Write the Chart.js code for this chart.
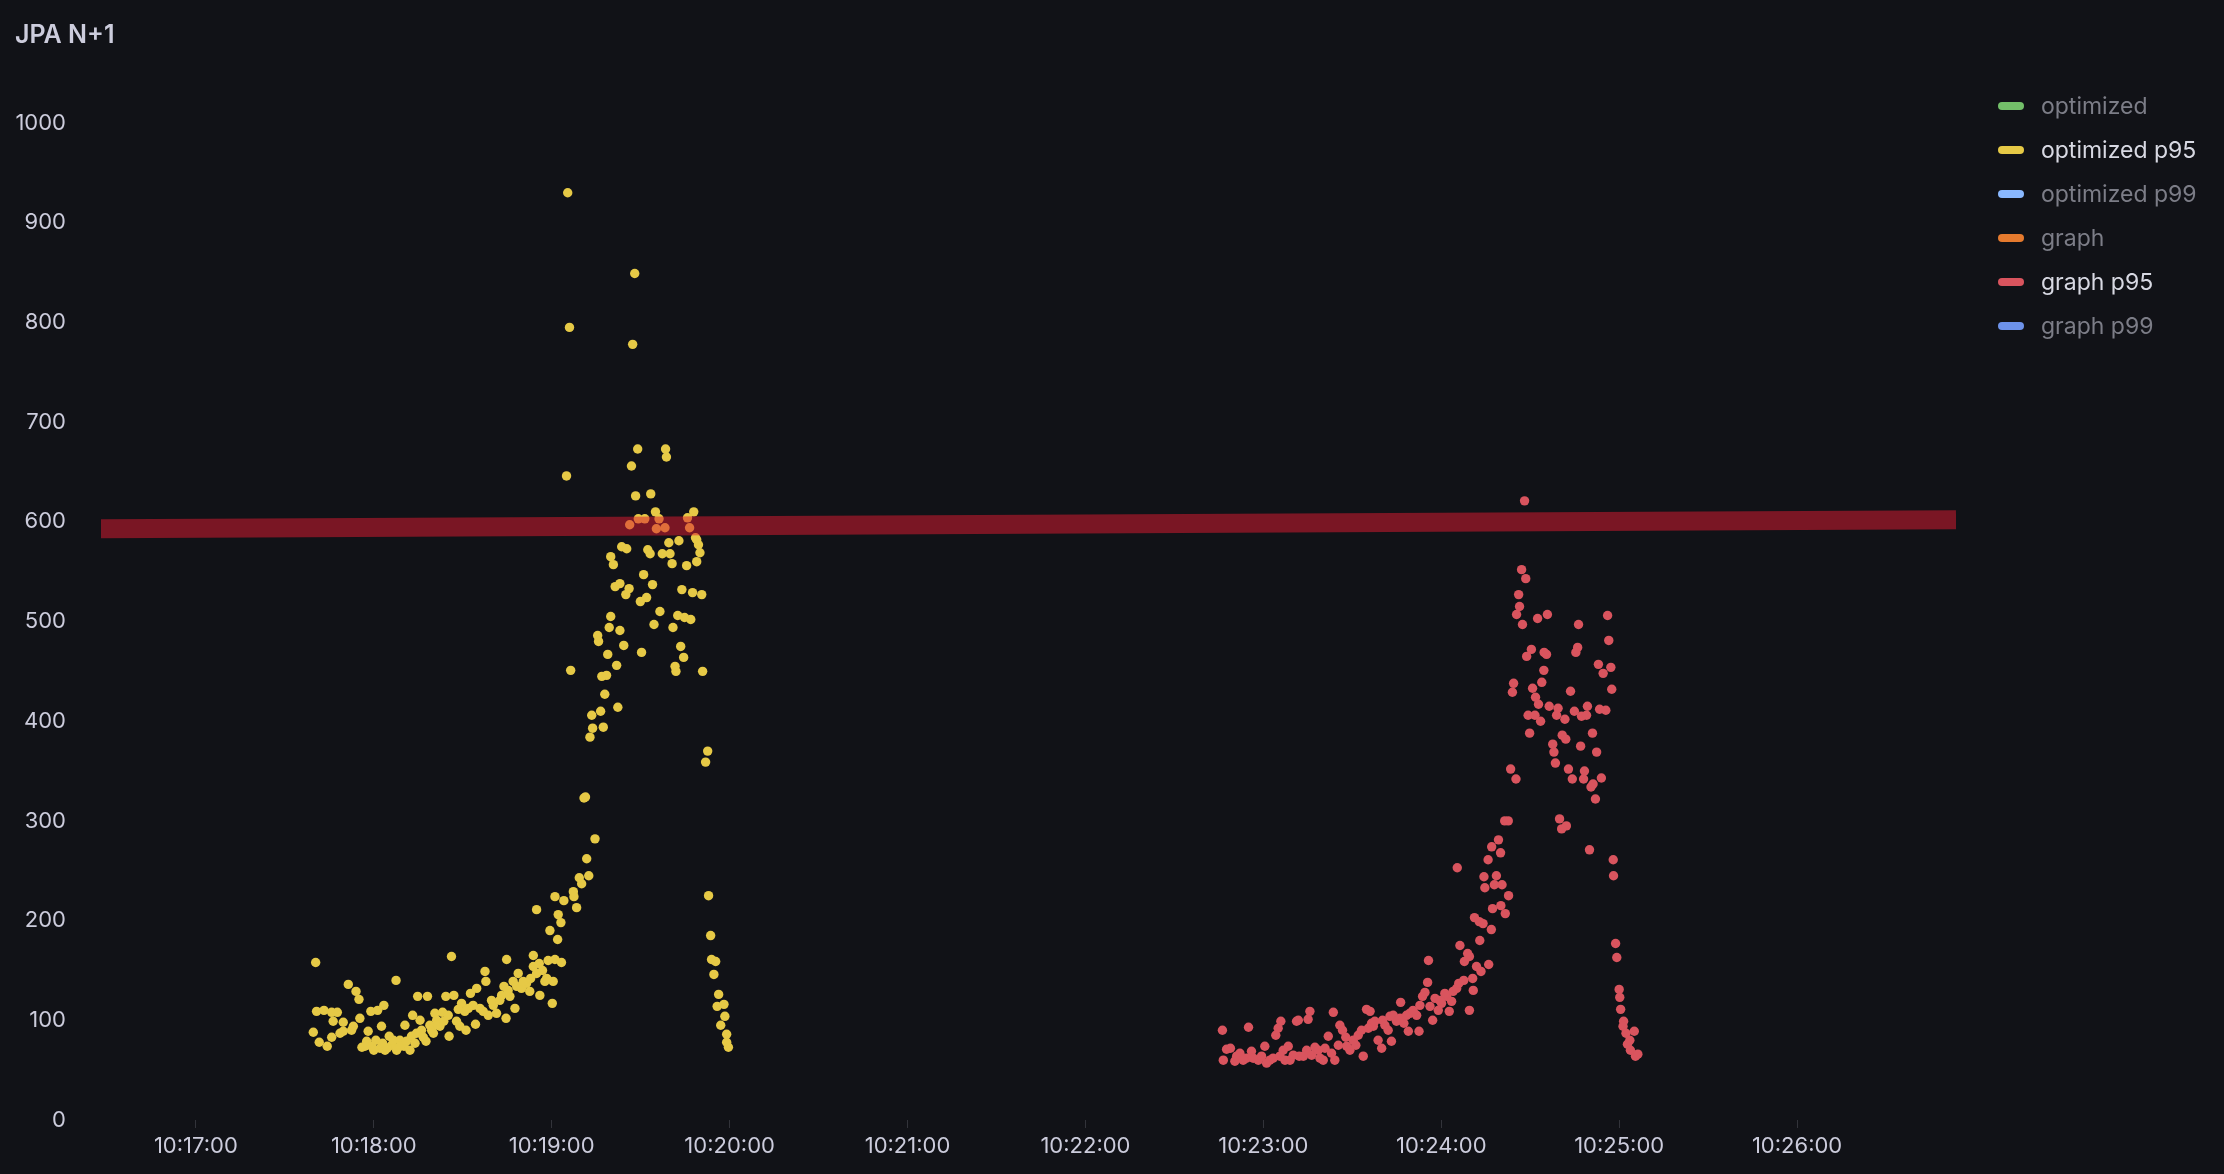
<!DOCTYPE html>
<html>
<head>
<meta charset="utf-8">
<script src="https://cdn.jsdelivr.net/npm/chart.js@4.4.1/dist/chart.umd.min.js"></script>
<style>
  html, body { margin: 0; padding: 0; background: #111217; }
  #wrap { width: 2224px; height: 1174px; }
</style>
</head>
<body>
<div id="wrap"><canvas id="c" width="2224" height="1174"></canvas></div>
<script>
// ---------------- DATA ----------------
const panelTitle = 'JPA N+1';
const timeOrigin = '10:17:00';           // point times are seconds after this
const xRange = ['10:16:28', '10:26:53.6'];
const tickLabels = ['10:17:00','10:18:00','10:19:00','10:20:00','10:21:00','10:22:00','10:23:00','10:24:00','10:25:00','10:26:00'];
const yTicks = [0,100,200,300,400,500,600,700,800,900,1000];

const legendLabels = ['optimized','optimized p95','optimized p99','graph','graph p95','graph p99'];
const legendColors = ['#73bf69','#e6c946','#8ab8ff','#e57a2e','#d9545e','#6d92ea'];
const legendActive = [false, true, false, false, true, false];

// threshold band (value at left edge, value at right edge)
const thresholdValues = [593, 602];

// optimized p95 : [seconds after 10:17:00, value]
const optimizedP95 = [
 [40.4,158],[39.6,88],[41.6,78],[44.3,74],[40.7,109],[43.2,110],[45.8,108],[47.7,108],[46.3,99],[45.8,83],
 [49.7,98],[51.4,136],[54.0,129],[55.0,121],[55.3,102],[53.1,94],[48.6,87],[49.7,89],[52.5,90],[58.1,89],
 [59.0,109],[61.3,110],[63.4,115],[62.6,94],[56.0,73],[57.6,79],[59.3,74],[60.7,80],[62.1,72],[63.8,70],
 [65.2,84],[66.0,75],[67.5,140],[67.7,70],[68.8,80],[70.2,74],[70.5,95],[72.2,70],[73.1,105],[73.9,77],
 [74.8,124],[75.6,100],[76.1,90],[77.6,79],[78.1,124],[79.5,90],[80.6,107],[81.2,100],[82.3,94],[83.2,108],
 [84.3,124],[85.4,84],[86.2,164],[87.0,125],[87.9,99],[89.6,117],[89.0,94],[91.1,90],[90.7,109],[92.6,127],
 [94.7,132],[94.3,96],[95.8,112],[97.5,149],[97.8,139],[98.6,105],[100.3,115],[101.4,107],[102.5,120],[103.9,134],
 [104.8,161],[104.6,102],[105.9,124],[107.0,139],[107.6,112],[108.7,147],[109.8,132],[111.5,137],[112.6,129],[113.8,165],
 [113.8,154],[115.8,157],[116.0,125],[117.7,139],[118.8,160],[120.2,117],[120.5,139],[121.1,161],[123.3,158],
 [57.0,74],[60.0,70],[63.0,77],[64.5,72],[66.6,80],[68.8,74],[71.0,79],[72.7,84],[74.4,87],[76.7,83],
 [78.9,95],[80.1,87],[81.7,95],[83.6,99],[85.1,105],[88.5,111],[91.9,112],[93.5,115],[96.9,109],[99.7,120],
 [103.1,125],[105.3,130],[108.2,134],[110.4,139],[112.9,142],[114.9,147],[116.9,150],[118.3,142],
 [114.9,211],[119.4,190],[122.0,181],[123.1,198],[122.2,206],[121.1,224],[124.1,220],[127.5,224],[128.4,213],[127.3,229],
 [129.3,243],[130.1,237],[132.5,245],[131.8,262],[134.6,282],[130.9,323],[131.4,324],
 [126.4,451],[139.9,505],[139.4,494],[143.0,491],[135.5,486],[135.8,480],[144.3,476],[138.9,467],[141.9,456],[150.3,469],
 [136.9,445],[138.5,446],[137.9,427],[133.5,406],[136.5,410],[142.3,414],[133.8,393],[137.4,394],[132.9,384],
 [139.9,565],[140.8,557],[143.6,575],[145.3,573],[141.4,535],[143.0,538],[146.1,533],[145.0,527],[149.9,520],[152.0,524],
 [151.0,547],[154.0,537],[152.4,572],[153.2,568],[157.3,568],[159.9,568],[159.5,579],[162.9,581],[168.9,582],[169.5,577],
 [170.0,569],[168.9,560],[165.5,556],[160.6,558],[163.9,532],[167.5,529],[170.6,527],[156.5,510],[154.5,497],[162.5,506],
 [164.8,504],[166.9,502],[160.9,494],[163.5,475],[164.5,464],[161.6,455],[161.9,450],[170.9,450],
 [125.4,930],[148.0,849],[126.0,795],[147.3,778],[149.0,673],[158.4,673],[158.7,665],[146.9,656],[125.0,646],[148.3,626],
 [153.4,628],[155.0,610],[167.9,610],[149.2,603],[151.4,603],[156.2,603],[146.3,597],[165.8,604],[155.3,593],[158.2,594],
 [166.5,594],[168.5,584],
 [172.6,370],[171.9,359],[172.9,225],[173.6,185],[173.9,161],[175.3,159],[174.7,146],[176.3,126],[175.8,114],[178.1,116],
 [178.4,104],[177.0,95],[179.0,86],[179.0,78],[179.6,73]
];

// graph p95 : [seconds after 10:17:00, value]
const graphP95 = [
 [346.2,90],[346.5,60],[347.6,71],[348.9,72],[350.4,59],[352.1,67],[355.0,93],[354.3,62],[356.0,69],[358.3,60],
 [360.5,74],[362.2,60],[364.2,85],[365.0,92],[365.9,99],[366.7,70],[368.4,74],[369.0,60],[371.2,99],[371.8,100],
 [372.1,64],[375.1,101],[375.7,109],[374.6,70],[377.4,73],[379.1,62],[380.8,72],[381.9,84],[383.6,108],[384.1,60],
 [385.8,95],[386.7,90],[387.8,83],[389.2,70],[391.2,75],[393.1,90],[393.7,64],[394.8,111],[396.0,109],[396.5,97],
 [397.1,94],[398.7,80],[399.9,72],[400.2,100],[402.1,90],[403.2,79],[403.8,105],[404.9,99],[406.3,118],[407.4,97],
 [408.9,89],[409.4,107],[411.7,105],[412.5,89],[412.8,115],[413.7,124],[414.5,128],[415.4,138],[415.7,160],[417.1,100],
 [417.9,122],[419.0,110],[420.1,117],[421.8,124],[422.7,109],[424.0,129],[425.2,132],
 [351.0,64],[353.2,60],[356.6,62],[359.4,64],[361.1,57],[363.3,62],[365.6,64],[367.3,60],[370.1,65],[373.5,64],
 [376.3,65],[378.5,70],[380.2,60],[383.0,67],[385.3,75],[388.1,74],[390.3,80],[392.0,85],[395.4,92],[397.6,99],
 [401.0,95],[402.7,104],[406.1,102],[408.3,105],[410.5,110],[416.2,114],[419.5,120],[421.2,127],[423.5,119],
 [425.4,253],[425.9,137],[427.6,140],[426.3,175],[428.9,167],[429.5,164],[427.8,159],[429.5,110],[430.6,142],[430.8,130],
 [431.9,154],[433.4,149],[433.0,180],[431.2,203],[432.8,199],[434.1,197],[436.0,156],[436.9,191],[434.7,233],[434.4,244],
 [438.6,245],[437.9,236],[440.5,236],[442.7,225],[440.1,215],[437.3,212],[441.6,207],
 [448.1,621],[447.1,552],[448.5,543],[446.1,527],[446.4,515],[445.4,507],[447.4,497],[452.5,503],[455.8,507],[466.3,497],
 [476.1,506],[476.5,481],[466.0,474],[465.4,469],[473.0,457],[477.2,454],[474.6,448],[477.5,432],[450.4,472],[448.8,465],
 [454.7,469],[455.5,467],[454.6,451],[453.9,439],[444.4,438],[444.0,429],[450.8,433],[451.8,424],[452.8,417],[463.6,430],
 [456.4,415],[459.4,413],[458.9,406],[449.3,406],[451.6,406],[453.5,400],[461.7,402],[464.9,410],[469.3,415],[467.3,405],
 [469.0,406],[473.4,412],[475.5,411],[449.8,388],[460.8,386],[462.0,382],[471.0,388],[457.6,377],[458.0,369],[467.0,375],
 [472.4,369],[458.5,358],[443.4,352],[445.2,342],[462.9,352],[464.2,342],[468.3,350],[468.0,342],[474.0,343],[471.2,337],
 [470.5,334],[472.0,322],[441.4,300],[442.6,300],[459.9,302],[462.2,295],[460.6,292],[439.3,281],[437.0,274],[440.0,268],
 [470.0,271],[478.0,261],[435.8,261],
 [478.1,245],[478.8,177],[479.2,163],[480.0,131],[480.2,123],[480.5,111],[481.5,99],[481.3,94],[485.1,89],[482.3,87],
 [483.6,80],[482.8,76],[483.8,70],[485.5,64],[486.3,66]
];

// ---------------- HELPERS ----------------
function clockToSec(s) {
  const p = s.split(':').map(Number);
  return p[0] * 3600 + p[1] * 60 + p[2];
}
function secToClock(v) {
  const t = Math.round(v);
  const h = Math.floor(t / 3600), m = Math.floor((t % 3600) / 60), s = t % 60;
  const pad = n => String(n).padStart(2, '0');
  return pad(h) + ':' + pad(m) + ':' + pad(s);
}
const origin = clockToSec(timeOrigin);
const toPoints = arr => arr.map(([sec, v]) => ({ x: origin + sec, y: v }));
const xMin = clockToSec(xRange[0]);
const xMax = clockToSec(xRange[1]);
const tickValues = tickLabels.map(clockToSec);

const TEXT = '#ccccdc';
const FONT = 'Inter';

const bgPlugin = {
  id: 'bg',
  beforeDraw(chart) {
    const ctx = chart.ctx;
    ctx.save();
    ctx.fillStyle = '#111217';
    ctx.fillRect(0, 0, chart.width, chart.height);
    ctx.restore();
  }
};

const panelPlugin = {
  id: 'panel',
  afterDraw(chart) {
    const ctx = chart.ctx;
    ctx.save();
    ctx.textAlign = 'left';
    ctx.textBaseline = 'middle';
    ctx.fillStyle = TEXT;
    ctx.font = '600 25px ' + FONT;
    ctx.fillText(panelTitle, 15, 35);
    ctx.font = '23px ' + FONT;
    legendLabels.forEach((lab, i) => {
      const y = 106 + i * 44;
      ctx.fillStyle = legendColors[i];
      ctx.beginPath();
      if (ctx.roundRect) ctx.roundRect(1998, y - 4, 26, 8, 4); else ctx.rect(1998, y - 4, 26, 8);
      ctx.fill();
      ctx.fillStyle = legendActive[i] ? '#d8d9e3' : '#7c7d87';
      ctx.fillText(lab, 2041, y + 1);
    });
    ctx.restore();
  }
};

new Chart(document.getElementById('c'), {
  type: 'scatter',
  data: {
    datasets: [
      {
        type: 'line',
        label: 'threshold',
        data: [{ x: xMin, y: thresholdValues[0] }, { x: xMax, y: thresholdValues[1] }],
        borderColor: 'rgba(219,26,48,0.52)',
        borderWidth: 19,
        borderCapStyle: 'butt',
        pointRadius: 0,
        fill: false,
        order: 0
      },
      {
        label: legendLabels[1],
        data: toPoints(optimizedP95),
        backgroundColor: legendColors[1],
        borderWidth: 0,
        pointRadius: 4.7,
        order: 1
      },
      {
        label: legendLabels[4],
        data: toPoints(graphP95),
        backgroundColor: legendColors[4],
        borderWidth: 0,
        pointRadius: 4.7,
        order: 1
      }
    ]
  },
  options: {
    responsive: false,
    animation: false,
    devicePixelRatio: 1,
    layout: { padding: { left: 0, right: 268, top: 123, bottom: 16 } },
    plugins: {
      legend: { display: false },
      title: { display: false },
      tooltip: { enabled: false }
    },
    scales: {
      x: {
        type: 'linear',
        min: xMin,
        max: xMax,
        afterBuildTicks(axis) { axis.ticks = tickValues.map(v => ({ value: v })); },
        afterFit(axis) { axis.height = 38; },
        ticks: {
          color: TEXT,
          font: { family: FONT, size: 22 },
          padding: 5,
          maxRotation: 0,
          autoSkip: false,
          callback: v => secToClock(v)
        },
        grid: { display: true, drawOnChartArea: false, drawTicks: true, tickLength: 8, tickColor: 'rgba(204,204,220,0.18)' },
        border: { display: false }
      },
      y: {
        min: 0,
        max: 1000,
        afterBuildTicks(axis) { axis.ticks = yTicks.map(v => ({ value: v })); },
        afterFit(axis) { axis.width = 101; },
        ticks: {
          color: TEXT,
          font: { family: FONT, size: 22 },
          padding: 27,
          callback: v => String(v)
        },
        grid: { display: false },
        border: { display: false }
      }
    }
  },
  plugins: [bgPlugin, panelPlugin]
});
</script>
</body>
</html>
